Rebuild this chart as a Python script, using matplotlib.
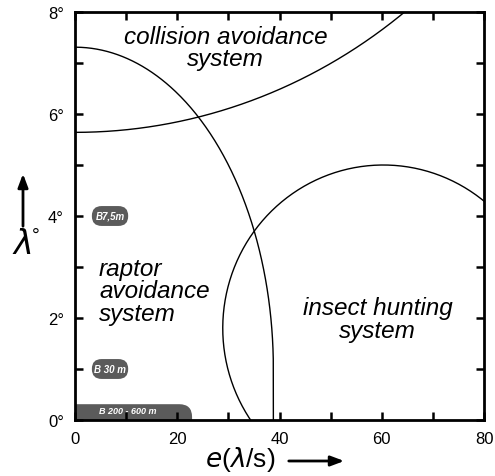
import numpy as np
import matplotlib
matplotlib.use("Agg")
import matplotlib.pyplot as plt
from matplotlib.patches import FancyBboxPatch

plt.rcParams['font.family'] = ['Liberation Sans', 'DejaVu Sans']

# ---- data ----
x_ticks = [0, 20, 40, 60, 80]
x_minor = [10, 30, 50, 70]
y_ticks = [0, 2, 4, 6, 8]
y_minor = [1, 3, 5, 7]
y_ticklabels = ["0°", "2°", "4°", "6°", "8°"]

# raptor avoidance boundary: quarter ellipse (centre x, centre y, semi-x, semi-y)
raptor_ellipse = [0.0, 1.0, 38.8, 6.31]
# collision avoidance boundary: lower arc of ellipse
collision_ellipse = [0.0, 16.84, 105.0, 11.2]
# insect hunting boundary: ellipse
insect_ellipse = [60.3, 1.8, 31.4, 3.2]

badge_labels = ["B7,5m", "B 30 m"]
badge_y = [4.0, 1.0]
badge_x = [3.3, 10.4]
bar_label = "B 200 - 600 m"
bar_extent = [0.0, 22.9, 0.31]

fig = plt.figure(figsize=(4.95, 4.77), dpi=100)
ax = fig.add_axes([75/495, 56/477, 409/495, 408/477])
ax.set_xlim(0, 80)
ax.set_ylim(0, 8)

lw = 1.0
# raptor curve
cx, cy, a, b = raptor_ellipse
t = np.linspace(0, np.pi/2, 300)
xr = cx + a*np.cos(t)
yr = cy + b*np.sin(t)
xr = np.concatenate([[cx + a], xr])
yr = np.concatenate([[0.0], yr])
ax.plot(xr, yr, color='black', lw=lw)

# collision curve
cx, cy, a, b = collision_ellipse
t = np.linspace(-np.pi/2, 0, 400)
ax.plot(cx + a*np.cos(t), cy + b*np.sin(t), color='black', lw=lw)

# insect curve
cx, cy, a, b = insect_ellipse
t = np.linspace(0, 2*np.pi, 600)
ax.plot(cx + a*np.cos(t), cy + b*np.sin(t), color='black', lw=lw)

# badges (rounded)
asp = (8/408) / (80/409)
gray = '#5b5b5b'
for lab, yy in zip(badge_labels, badge_y):
    h = 0.39
    p = FancyBboxPatch((badge_x[0], yy - h/2), badge_x[1]-badge_x[0], h,
                       boxstyle="round,pad=0,rounding_size=1.9",
                       mutation_aspect=asp, fc=gray, ec='none', zorder=1)
    ax.add_patch(p)
    ax.text((badge_x[0]+badge_x[1])/2, yy, lab, color='white', fontsize=7,
            fontweight='bold', fontstyle='italic', ha='center', va='center')

x0, x1, h = bar_extent
p = FancyBboxPatch((-6, -0.6), x1 + 6, h + 0.6,
                   boxstyle="round,pad=0,rounding_size=2.5",
                   mutation_aspect=asp, fc=gray, ec='none', zorder=1, clip_on=True)
ax.add_patch(p)
ax.text(10.3, 0.18, bar_label, color='white', fontsize=6.5, fontweight='bold',
        fontstyle='italic', ha='center', va='center')

# region labels
fs = 17.5
ax.text(29.5, 7.31, "collision avoidance\nsystem", ha='center', va='center',
        fontsize=fs, fontstyle='italic', linespacing=0.95)
ax.text(4.7, 2.53, "raptor\navoidance\nsystem", ha='left', va='center',
        fontsize=fs, fontstyle='italic', linespacing=0.95)
ax.text(59.2, 1.98, "insect hunting\nsystem", ha='center', va='center',
        fontsize=fs, fontstyle='italic', linespacing=0.95)

# axes styling
for s in ax.spines.values():
    s.set_linewidth(2.0)
ax.set_xticks(x_ticks)
ax.set_xticks(x_minor, minor=True)
ax.set_yticks(y_ticks)
ax.set_yticks(y_minor, minor=True)
ax.set_yticklabels(y_ticklabels)
ax.tick_params(which='both', direction='in', length=6, width=1.8,
               top=True, right=True, labelsize=12, pad=8)

# axis labels
fig.text(240/495, 1 - 460/477, r"$e$($\lambda$/s)", ha='center', va='center', fontsize=19)
ax.annotate("", xy=(347/495, 1 - 462/477), xytext=(286/495, 1 - 462/477),
            xycoords='figure fraction',
            arrowprops=dict(arrowstyle='-|>,head_length=0.8,head_width=0.3',
                            color='black', lw=2))
fig.text(32/495, 1 - 246/477, r"$\lambda$", ha='right', va='center', fontsize=24)
fig.text(32/495, 1 - 236/477, "°", ha='left', va='center', fontsize=14)
ax.annotate("", xy=(23/495, 1 - 172/477), xytext=(23/495, 1 - 230/477),
            xycoords='figure fraction',
            arrowprops=dict(arrowstyle='-|>,head_length=0.8,head_width=0.3',
                            color='black', lw=2))

fig.savefig("out.png", dpi=100)
